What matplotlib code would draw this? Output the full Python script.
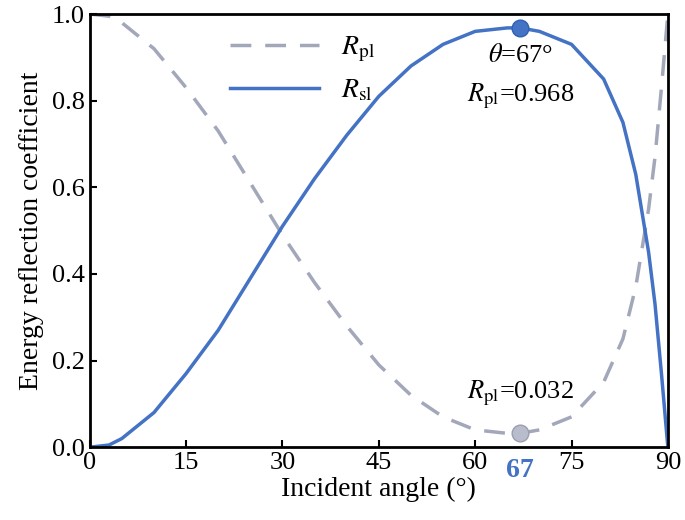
import matplotlib
matplotlib.use("Agg")
import matplotlib.pyplot as plt

angles = [0, 3, 5, 10, 15, 20, 25, 30, 35, 40, 45, 50, 55, 60, 65, 67, 70, 75, 80, 83, 85, 87, 88, 89, 90]
r_sl = [0, 0.005, 0.02, 0.08, 0.17, 0.27, 0.39, 0.51, 0.62, 0.72, 0.81, 0.88, 0.93, 0.96, 0.968, 0.968, 0.96, 0.93, 0.85, 0.75, 0.63, 0.45, 0.33, 0.17, 0.0]
r_pl = [1.0, 0.995, 0.98, 0.92, 0.83, 0.73, 0.61, 0.49, 0.38, 0.28, 0.19, 0.12, 0.07, 0.04, 0.032, 0.032, 0.04, 0.07, 0.15, 0.25, 0.37, 0.55, 0.67, 0.83, 1.0]
peak_angle = 67
peak_sl = 0.968
min_pl = 0.032
xticks = [0, 15, 30, 45, 60, 75, 90]
yticks = [0.0, 0.2, 0.4, 0.6, 0.8, 1.0]

plt.rcParams['font.family'] = ['Liberation Serif', 'DejaVu Sans']
plt.rcParams['mathtext.fontset'] = 'stix'
fig = plt.figure(figsize=(6.85, 5.2), dpi=100)
ax = fig.add_axes([0.131, 0.14, 0.844, 0.833])
blue = '#4472c4'
gray = '#a3a7ba'
ax.plot(angles, r_pl, '--', color=gray, lw=2.5, dashes=(6, 4), label=r'$R_{\mathrm{pl}}$')
ax.plot(angles, r_sl, '-', color=blue, lw=2.5, label=r'$R_{\mathrm{sl}}$')
ax.plot([peak_angle], [peak_sl], 'o', ms=12, color=blue, mec='#3060b0', zorder=5)
ax.plot([peak_angle], [min_pl], 'o', ms=12, color='#b8bccb', mec='#9a9eb0', zorder=5)
ax.text(peak_angle, 0.905, r'$\theta$=67°', ha='center', va='center', fontsize=19)
ax.text(peak_angle, 0.81, r'$R_{\mathrm{pl}}$=0.968', ha='center', va='center', fontsize=19)
ax.text(peak_angle, 0.125, r'$R_{\mathrm{pl}}$=0.032', ha='center', va='center', fontsize=19)
ax.set_xlim(0, 90)
ax.set_ylim(0, 1.0)
ax.set_xticks(xticks)
ax.set_yticks(yticks)
ax.set_yticklabels([f'{v:.1f}' for v in yticks])
ax.tick_params(direction='in', labelsize=19, width=1.5, length=5)
ax.text(peak_angle, -0.025, '67', color=blue, fontweight='bold', fontsize=20, ha='center', va='top', transform=ax.transData)
for s in ax.spines.values():
    s.set_linewidth(2)
ax.set_xlabel('Incident angle (°)', fontsize=20, labelpad=2)
ax.set_ylabel('Energy reflection coefficient', fontsize=20, labelpad=6)
ax.legend(loc='upper left', bbox_to_anchor=(0.2, 1.01), frameon=False, fontsize=20, handlelength=3.2)
fig.savefig('out.png', dpi=100)
